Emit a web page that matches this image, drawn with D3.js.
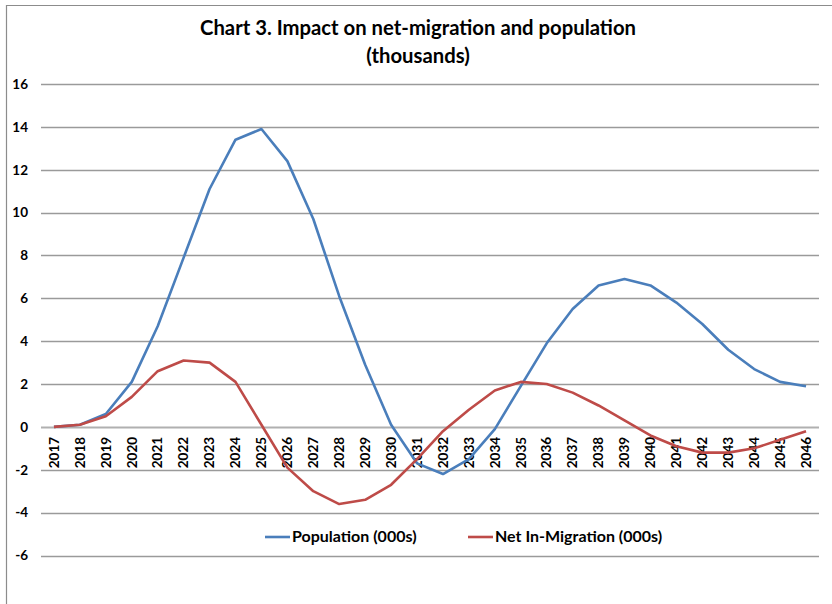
<!DOCTYPE html>
<html>
<head>
<meta charset="utf-8">
<script src="https://cdn.jsdelivr.net/npm/d3@7"></script>
<style>
  html, body { margin: 0; padding: 0; background: #fff; }
  svg { display: block; font-family: Lato, "Liberation Sans", Arial, sans-serif; }
</style>
</head>
<body>
<svg id="chart" width="832" height="604"></svg>
<script>
// Projection years (x categories)
const years = [2017, 2018, 2019, 2020, 2021, 2022, 2023, 2024, 2025, 2026,
               2027, 2028, 2029, 2030, 2031, 2032, 2033, 2034, 2035, 2036,
               2037, 2038, 2039, 2040, 2041, 2042, 2043, 2044, 2045, 2046];

// Population impact, thousands
const population = [0, 0.1, 0.6, 2.1, 4.7, 7.9, 11.1, 13.4, 13.9, 12.4,
                    9.7, 6.1, 2.9, 0.1, -1.7, -2.2, -1.5, -0.1, 1.9, 3.9,
                    5.5, 6.6, 6.9, 6.6, 5.8, 4.8, 3.6, 2.7, 2.1, 1.9];

// Net in-migration impact, thousands
const netMigration = [0, 0.1, 0.5, 1.4, 2.6, 3.1, 3.0, 2.1, 0.1, -1.9,
                      -3.0, -3.6, -3.4, -2.7, -1.5, -0.2, 0.8, 1.7, 2.1, 2.0,
                      1.6, 1.0, 0.3, -0.4, -0.9, -1.2, -1.2, -1.0, -0.6, -0.2];

const yTicks = [-6, -4, -2, 0, 2, 4, 6, 8, 10, 12, 14, 16];

const seriesNames = ["Population (000s)", "Net In-Migration (000s)"];
const seriesColors = ["#4A7EBB", "#BE4B48"];

const svg = d3.select("#chart");

// Outer chart frame
svg.append("path")
  .attr("d", "M6.5,610 L6.5,5.5 L840,5.5")
  .attr("fill", "none")
  .attr("stroke", "#8c8c8c")
  .attr("stroke-width", 1.2);

// Title
const title = svg.append("text")
  .attr("text-anchor", "middle")
  .attr("font-weight", "bold")
  .attr("font-size", 20.3)
  .attr("fill", "#000");
title.append("tspan").attr("x", 418).attr("y", 35).text("Chart 3. Impact on net-migration and population");
title.append("tspan").attr("x", 418).attr("y", 63).text("(thousands)");

const plotLeft = 41, plotRight = 819;

const x = d3.scaleBand().domain(years).range([plotLeft, plotRight]);
const y = d3.scaleLinear().domain([-6, 16]).range([555.5, 84]);

// Horizontal gridlines
svg.append("g")
  .selectAll("line")
  .data(yTicks)
  .join("line")
  .attr("x1", plotLeft)
  .attr("x2", plotRight)
  .attr("y1", d => Math.round(y(d)) + 0.5)
  .attr("y2", d => Math.round(y(d)) + 0.5)
  .attr("stroke", d => d === 0 ? "#b0b0b0" : "#9a9a9a")
  .attr("stroke-width", d => d === 0 ? 2 : 1.3);

// Y-axis labels (plain hyphen for negatives)
const yAxis = svg.append("g")
  .attr("transform", `translate(${plotLeft - 13},0)`)
  .call(d3.axisLeft(y).tickValues(yTicks).tickSize(0).tickPadding(0)
    .tickFormat(d => String(d)));
yAxis.select(".domain").remove();
yAxis.selectAll("text")
  .attr("font-family", "Lato, Liberation Sans, Arial, sans-serif")
  .attr("font-size", 13.5)
  .attr("font-weight", "bold")
  .attr("fill", "#000");

// X-axis labels, rotated, sitting just under the zero line
const xAxis = svg.append("g")
  .attr("transform", `translate(0,${y(0)})`)
  .call(d3.axisBottom(x).tickSize(0).tickPadding(0));
xAxis.select(".domain").remove();
xAxis.selectAll("text")
  .attr("font-family", "Lato, Liberation Sans, Arial, sans-serif")
  .attr("font-size", 13.5)
  .attr("font-weight", "bold")
  .attr("fill", "#000")
  .attr("text-anchor", "end")
  .attr("dy", "0.35em")
  .attr("transform", "translate(0,10) rotate(-90)");

// Series lines
const line = d3.line()
  .x((d, i) => x(years[i]) + x.bandwidth() / 2)
  .y(d => y(d));

[population, netMigration].forEach((vals, k) => {
  svg.append("path")
    .datum(vals)
    .attr("d", line)
    .attr("fill", "none")
    .attr("stroke", seriesColors[k])
    .attr("stroke-width", 2.6)
    .attr("stroke-linejoin", "round");
});

// Legend
const legendX = [265, 468];
const legend = svg.append("g");
seriesNames.forEach((name, k) => {
  legend.append("line")
    .attr("x1", legendX[k]).attr("x2", legendX[k] + 25)
    .attr("y1", 537).attr("y2", 537)
    .attr("stroke", seriesColors[k]).attr("stroke-width", 2.6);
  legend.append("text")
    .attr("x", legendX[k] + 27).attr("y", 542)
    .attr("font-size", 16)
    .attr("font-weight", "bold")
    .attr("fill", "#000")
    .text(name);
});
</script>
</body>
</html>
